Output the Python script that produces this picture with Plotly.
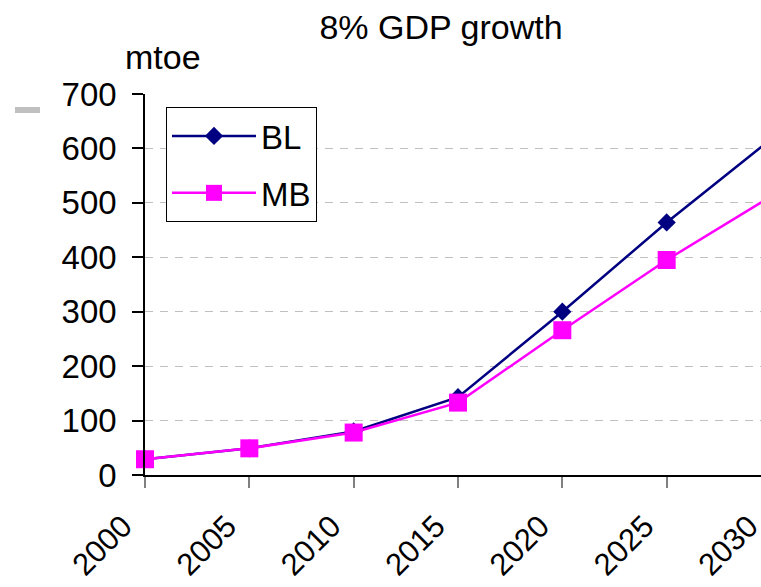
import plotly.graph_objects as go

# Energy demand under 8% GDP growth (million tonnes of oil equivalent)
years = [2000, 2005, 2010, 2015, 2020, 2025, 2030]
year_labels = ["2000", "2005", "2010", "2015", "2020", "2025", "2030"]
bl_values = [29, 49, 80, 143, 300, 464, 617]
mb_values = [29, 49, 78, 133, 266, 395, 512]
y_ticks = [0, 100, 200, 300, 400, 500, 600, 700]

FONT = "Liberation Sans, Arial, sans-serif"

W, H = 811, 587
ML, MT, MB_ = 145, 94, 112
PLOT_W = 626
MR = W - ML - PLOT_W
PLOT_H = H - MT - MB_

fig = go.Figure()
fig.add_trace(go.Scatter(
    x=years, y=bl_values, name="BL", mode="lines+markers",
    line=dict(color="#000080", width=2.5),
    marker=dict(symbol="diamond", size=14, color="#000080"),
    cliponaxis=False, legendgroup="bl",
))
fig.add_trace(go.Scatter(
    x=years, y=mb_values, name="MB", mode="lines+markers",
    line=dict(color="#FF00FF", width=2.5),
    marker=dict(symbol="square", size=18, color="#FF00FF"),
    cliponaxis=False, legendgroup="mb",
))


def px_to_paper_x(px):
    return (px - ML) / PLOT_W


def px_to_paper_y(py):
    return 1 - (py - MT) / PLOT_H


fig.update_layout(
    width=W, height=H,
    margin=dict(l=ML, r=MR, t=MT, b=MB_, pad=0, autoexpand=False),
    paper_bgcolor="white", plot_bgcolor="white",
    font=dict(family=FONT, size=32, color="black"),
    title=dict(text="8% GDP growth", xref="container", x=441 / W,
               xanchor="center", yref="container", y=1 - 27 / H,
               yanchor="middle", font=dict(size=34)),
    xaxis=dict(
        range=[2000, 2030], tickmode="array", tickvals=years,
        ticktext=year_labels, tickangle=-45,
        showline=True, linecolor="black", linewidth=1.5,
        ticks="outside", ticklen=11, tickwidth=2, tickcolor="#808080",
        showgrid=False, zeroline=False, automargin=False,
        tickfont=dict(size=31),
        ticklabelstandoff=8, ticklabelshift=-22,
    ),
    yaxis=dict(
        range=[0, 700], tickmode="array", tickvals=y_ticks,
        showline=True, linecolor="black", linewidth=1.5,
        ticks="outside", ticklen=11, tickwidth=1.5, tickcolor="black",
        showgrid=True, gridcolor="#c0c0c0", gridwidth=1,
        griddash="8px,7px", zeroline=False, automargin=False,
        tickfont=dict(size=33), ticklabelstandoff=9,
    ),
    legend=dict(
        x=px_to_paper_x(166), y=px_to_paper_y(107),
        xanchor="left", yanchor="top",
        bordercolor="black", borderwidth=1, bgcolor="white",
        font=dict(size=33), traceorder="grouped", tracegroupgap=11,
        itemwidth=84,
    ),
    annotations=[dict(
        text="mtoe", xref="paper", yref="paper",
        x=px_to_paper_x(123), y=px_to_paper_y(57),
        xanchor="left", yanchor="middle", showarrow=False,
        font=dict(size=34),
    )],
    shapes=[dict(
        type="rect", xref="paper", yref="paper",
        x0=px_to_paper_x(15), x1=px_to_paper_x(40),
        y0=px_to_paper_y(113), y1=px_to_paper_y(107),
        fillcolor="#c0c0c0", line=dict(width=0), layer="above",
    )],
)

fig.write_html(
    "out.html",
    post_script=(
        "document.documentElement.style.overflow='hidden';"
        "document.body.style.overflow='hidden';"
        "document.body.style.margin='0';"
    ),
)
